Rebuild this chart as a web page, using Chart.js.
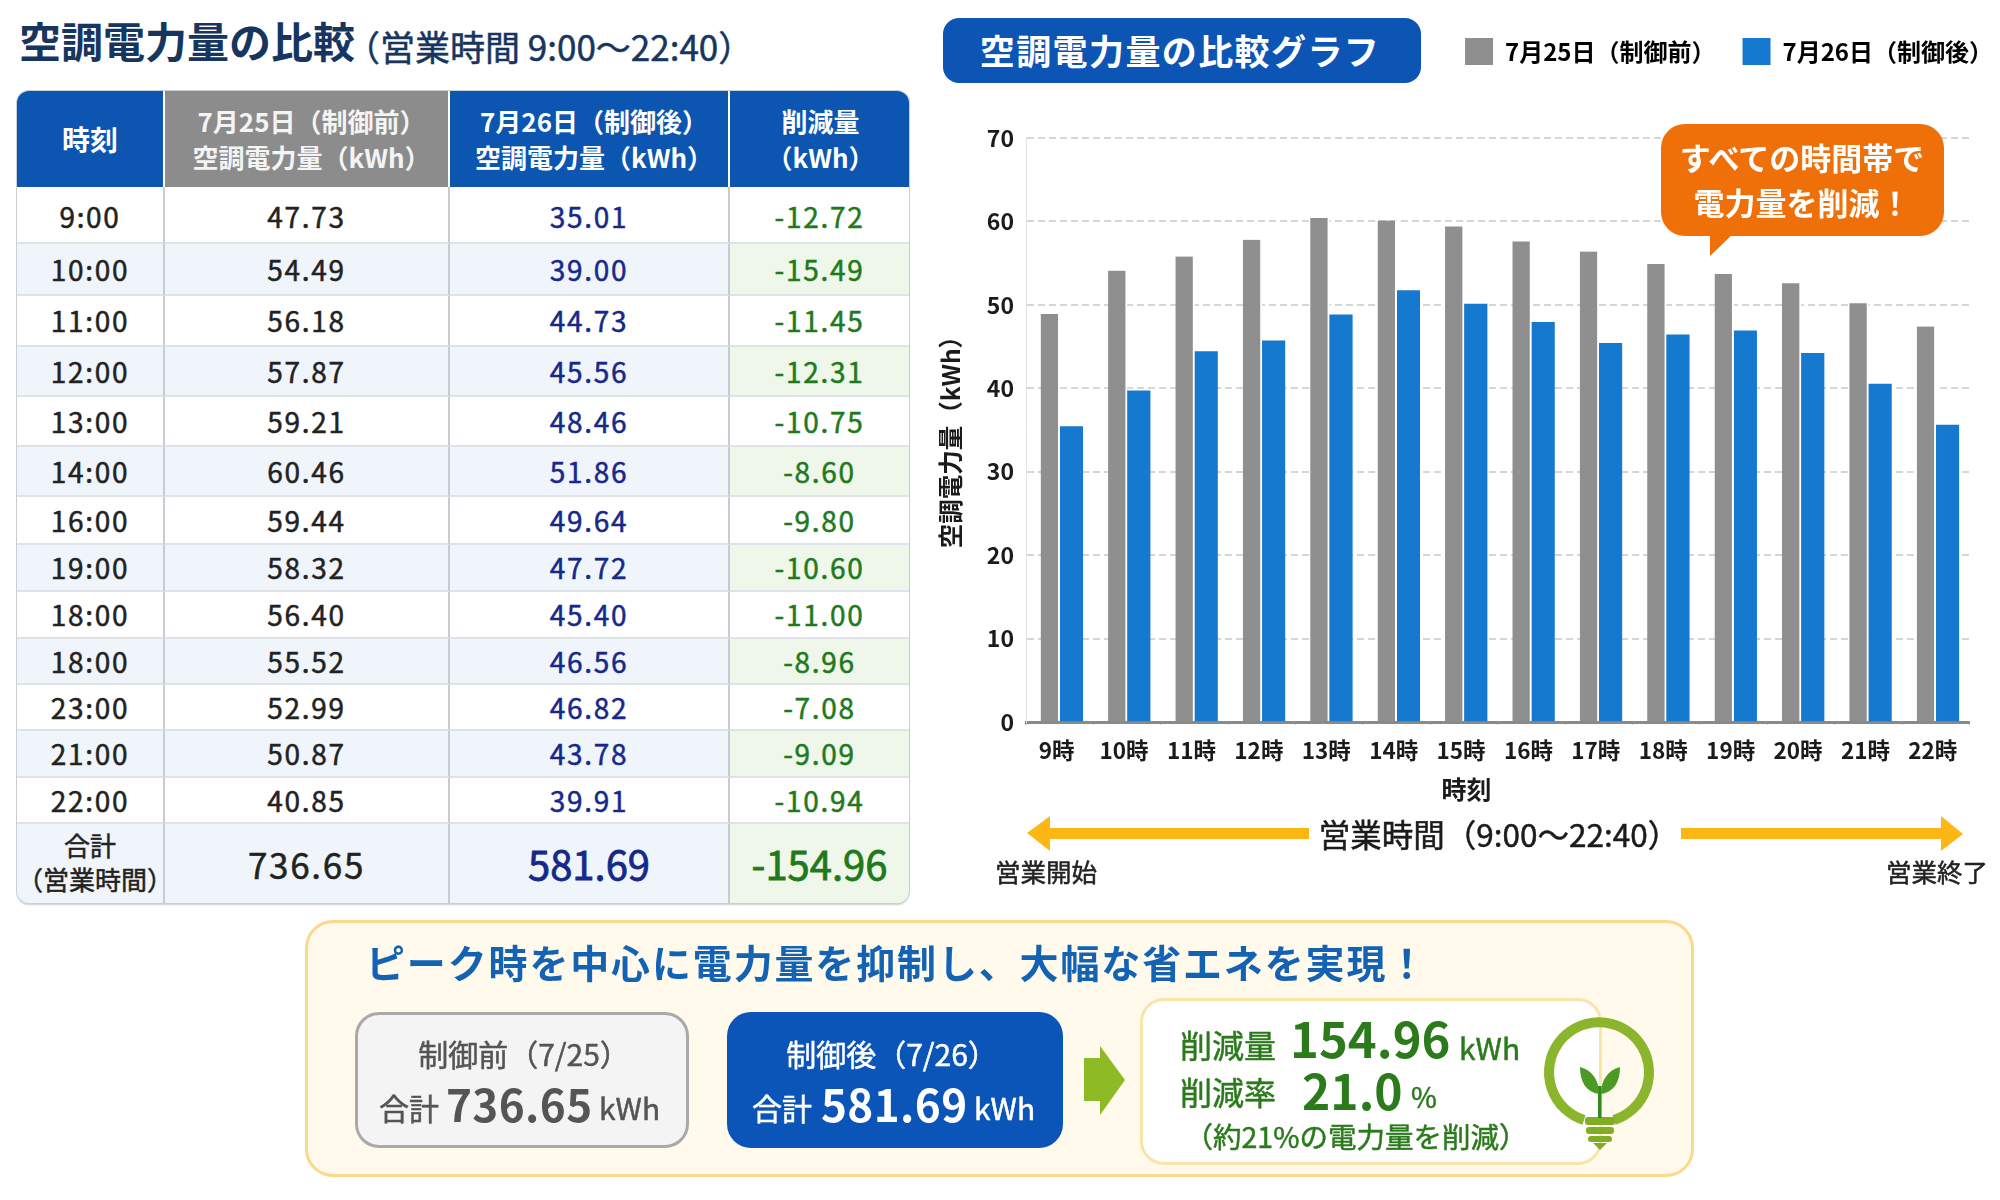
<!DOCTYPE html>
<html lang="ja">
<head>
<meta charset="utf-8">
<title>空調電力量の比較</title>
<script src="https://cdn.jsdelivr.net/npm/chart.js@4/dist/chart.umd.js"></script>
<style>
html, body { margin: 0; padding: 0; background: #fff; width: 2000px; height: 1200px; overflow: hidden; }
body { position: relative; font-family: "Noto Sans CJK JP", "Noto Sans", sans-serif; color: #222; }
.t { position: absolute; white-space: nowrap; transform: translate(-50%, -50%); line-height: 1; }
.l { position: absolute; white-space: nowrap; line-height: 1; }
.box { position: absolute; box-sizing: border-box; }
.med { -webkit-text-stroke: 0.5px currentColor; }
#chartWrap { position: absolute; left: 930px; top: 0; width: 1070px; height: 812px; }
#overlay { position: absolute; left: 0; top: 0; pointer-events: none; }

#tbl {
  position: absolute; left: 17px; top: 91px; width: 892px; height: 812px;
  display: grid; box-sizing: border-box;
  grid-template-columns: 148px 285px 280px 179px;
  grid-template-rows: 96px 57px 52px 51px 50px 50px 50px 48px 47px 47px 46px 46px 47px 46px 79px;
  border-radius: 12px; overflow: hidden;
  box-shadow: 0 0 0 1px #c9ced3, 0 2px 2px #c9ced3;
}
#tbl > div {
  display: flex; align-items: center; justify-content: center; text-align: center;
  box-sizing: border-box; font-size: 28px; letter-spacing: 1.7px;
  border-bottom: 2px solid #dfe3e8; border-right: 2px solid #c6ccd2;
  -webkit-text-stroke: 0.5px currentColor;
  padding-bottom: 1px;
}
#tbl > div.row0 { padding-top: 3px; padding-bottom: 0; }
#tbl > div.last { border-right: 0; }
#tbl > div.head { background: #0c55b0; color: #fff; font-size: 26px; font-weight: 700; line-height: 36px; border: 0; border-right: 2px solid #fff; padding: 0 0 0 10px; letter-spacing: 0; -webkit-text-stroke: 0; }
#tbl > div.head.first { font-size: 28px; padding-left: 0; }
#tbl > div.head.grey { background: #8c8c8c; color: #f4f4f4; }
#tbl > div.head.last { border-right: 0; padding-left: 2px; }
#tbl .tint { background: #f0f5fb; }
#tbl .after { color: #16298a; }
#tbl .diff { color: #1f7a1c; }
#tbl .diff.tint { background: #eff6ea; }
#tbl > div.total { border-bottom: 0; font-size: 35px; }
#tbl > div.total.after, #tbl > div.total.diff { font-size: 40px; letter-spacing: 0; -webkit-text-stroke: 0.8px currentColor; }
#tbl > div.total.name { font-size: 26px; line-height: 34px; letter-spacing: 0; padding-bottom: 3px; }
</style>
</head>
<body>

<div class="l" style="left:19px;top:19px;font-size:42px;font-weight:700;color:#17365f;">空調電力量の比較</div>
<div class="l med" style="left:345px;top:28px;font-size:35px;color:#17365f;">（営業時間 9:00～22:40）</div>

<div id="tbl"></div>

<div class="box" style="left:943px;top:18px;width:478px;height:65px;background:#0c55b5;border-radius:16px;"></div>
<div class="t" style="left:1180px;top:49px;font-size:35px;font-weight:700;color:#fff;letter-spacing:1.4px;">空調電力量の比較グラフ</div>

<div id="chartWrap"><canvas id="powerChart" width="1070" height="812"></canvas></div>

<svg id="overlay" width="2000" height="1200" xmlns="http://www.w3.org/2000/svg">
  <rect x="1661" y="124" width="283" height="112" rx="24" fill="#ef7009"/>
  <path d="M1710 230 L1710 256 L1735 232 Z" fill="#ef7009"/>
  <path d="M1027 833 L1050 816 L1050 828 L1309 828 L1309 839 L1050 839 L1050 851 Z" fill="#fdb714"/>
  <path d="M1963 834 L1941 816 L1941 828 L1681 828 L1681 839 L1941 839 L1941 851 Z" fill="#fdb714"/>
</svg>

<div class="t" style="left:1802px;top:156px;font-size:31px;font-weight:700;color:#fff;">すべての時間帯で</div>
<div class="t" style="left:1802px;top:201px;font-size:31px;font-weight:700;color:#fff;">電力量を削減！</div>

<div class="t med" style="left:1499px;top:834px;font-size:31.5px;color:#1b1b1b;">営業時間（9:00～22:40）</div>
<div class="t med" style="left:1046px;top:871px;font-size:25.5px;">営業開始</div>
<div class="t med" style="left:1937px;top:871px;font-size:25.5px;">営業終了</div>

<div class="box" style="left:305px;top:920px;width:1389px;height:257px;background:#fffaeb;border:3px solid #fbd88c;border-radius:28px;"></div>
<div class="l" style="left:366px;top:942px;font-size:39px;font-weight:700;color:#1462b4;letter-spacing:1.85px;">ピーク時を中心に電力量を抑制し、大幅な省エネを実現！</div>

<div class="box" style="left:355px;top:1012px;width:334px;height:136px;background:#f4f4f4;border:3px solid #a9a9a9;border-radius:24px;"></div>
<div class="t med" style="left:524px;top:1053px;font-size:30px;color:#555;">制御前（7/25）</div>
<div class="l med" style="left:379px;top:1092px;font-size:30px;color:#555;">合計</div>
<div class="l" style="left:446px;top:1081px;font-size:44px;font-weight:700;color:#555;letter-spacing:.4px;">736.65</div>
<div class="l med" style="left:599px;top:1092px;font-size:30px;color:#555;">kWh</div>

<div class="box" style="left:727px;top:1012px;width:336px;height:136px;background:#0c55b8;border-radius:24px;"></div>
<div class="t med" style="left:892px;top:1053px;font-size:30px;color:#fff;">制御後（7/26）</div>
<div class="l med" style="left:752px;top:1092px;font-size:30px;color:#fff;">合計</div>
<div class="l" style="left:821px;top:1081px;font-size:44px;font-weight:700;color:#fff;letter-spacing:.4px;">581.69</div>
<div class="l med" style="left:974px;top:1092px;font-size:30px;color:#fff;">kWh</div>

<svg class="box" style="left:1078px;top:1039px;" width="55" height="85" xmlns="http://www.w3.org/2000/svg">
  <path d="M6 19 L22 19 L22 7 L47 41 L22 76 L22 62 L6 62 Z" fill="#8dbb25"/>
</svg>

<div class="box" style="left:1140px;top:998px;width:462px;height:167px;background:#fff;border:3px solid #fbe4a8;border-radius:24px;"></div>
<div class="l med" style="left:1180px;top:1028px;font-size:32px;color:#2b7a1c;">削減量</div>
<div class="l" style="left:1290px;top:1012px;font-size:49px;font-weight:700;color:#2b7a1c;">154.96</div>
<div class="l med" style="left:1459px;top:1032px;font-size:30px;color:#2b7a1c;">kWh</div>
<div class="l med" style="left:1180px;top:1075px;font-size:32px;color:#2b7a1c;">削減率</div>
<div class="l" style="left:1302px;top:1065px;font-size:48px;font-weight:700;color:#2b7a1c;">21.0</div>
<div class="l med" style="left:1411px;top:1082px;font-size:28px;color:#2b7a1c;">%</div>
<div class="t med" style="left:1356px;top:1136px;font-size:28.5px;color:#2b7a1c;">（約21%の電力量を削減）</div>

<svg class="box" style="left:1536px;top:1010px;" width="130" height="145" xmlns="http://www.w3.org/2000/svg">
  <path d="M48 110 A50 50 0 1 1 78 110" fill="none" stroke="#8ab52c" stroke-width="10"/>
  <rect x="49" y="107" width="30" height="8" rx="3" fill="#7fae22"/>
  <rect x="50" y="117" width="28" height="7" rx="3" fill="#7fae22"/>
  <rect x="52" y="126" width="24" height="6" rx="3" fill="#7fae22"/>
  <path d="M57 133 H71 L64 140 Z" fill="#7fae22"/>
  <rect x="62" y="76" width="3.5" height="32" fill="#2f8a1f"/>
  <path d="M63 84 C50 82 44 72 44 57 C56 60 63 70 63 84 Z" fill="#4c9a24"/>
  <path d="M65 84 C78 82 84 72 84 57 C72 60 65 70 65 84 Z" fill="#4c9a24"/>
</svg>

<script>
const hourLabels = ['9時', '10時', '11時', '12時', '13時', '14時', '15時', '16時', '17時', '18時', '19時', '20時', '21時', '22時'];
const beforeValues = [48.9, 54.1, 55.8, 57.8, 60.4, 60.1, 59.4, 57.6, 56.4, 54.9, 53.7, 52.6, 50.2, 47.4];
const afterValues = [35.4, 39.7, 44.4, 45.7, 48.8, 51.7, 50.1, 47.9, 45.4, 46.4, 46.9, 44.2, 40.5, 35.6];
const yTicks = [0, 10, 20, 30, 40, 50, 60, 70];

const tableTimes = ['9:00', '10:00', '11:00', '12:00', '13:00', '14:00', '16:00', '19:00', '18:00', '18:00', '23:00', '21:00', '22:00'];
const tableBefore = ['47.73', '54.49', '56.18', '57.87', '59.21', '60.46', '59.44', '58.32', '56.40', '55.52', '52.99', '50.87', '40.85'];
const tableAfter = ['35.01', '39.00', '44.73', '45.56', '48.46', '51.86', '49.64', '47.72', '45.40', '46.56', '46.82', '43.78', '39.91'];
const tableDiff = ['-12.72', '-15.49', '-11.45', '-12.31', '-10.75', '-8.60', '-9.80', '-10.60', '-11.00', '-8.96', '-7.08', '-9.09', '-10.94'];
const tableTotals = ['736.65', '581.69', '-154.96'];

const FONT = '"Noto Sans CJK JP", "Noto Sans", sans-serif';

// table
const tbl = document.getElementById('tbl');
function addCell(html, cls) {
    const d = document.createElement('div');
    d.className = cls;
    d.innerHTML = html;
    tbl.appendChild(d);
}
addCell('時刻', 'head first');
addCell('7月25日（制御前）<br>空調電力量（kWh）', 'head grey');
addCell('7月26日（制御後）<br>空調電力量（kWh）', 'head');
addCell('削減量<br>（kWh）', 'head last');
tableTimes.forEach((time, i) => {
    const tint = (i % 2 === 1 ? ' tint' : '') + (i === 0 ? ' row0' : '');
    addCell(time, 'name' + tint);
    addCell(tableBefore[i], 'before' + tint);
    addCell(tableAfter[i], 'after' + tint);
    addCell(tableDiff[i], 'diff last' + tint);
});
addCell('合計<br>（営業時間）', 'total name tint');
addCell(tableTotals[0], 'total before tint');
addCell(tableTotals[1], 'total after tint');
addCell(tableTotals[2], 'total diff last tint');

// the legend sits beside the title pill, not over the plot
const placeLegend = {
    id: 'placeLegend',
    afterLayout(chart) {
        chart.legend.top = 11;
        chart.legend.right = 1090;
    }
};

new Chart(document.getElementById('powerChart').getContext('2d'), {
    type: 'bar',
    data: {
        labels: hourLabels,
        datasets: [{
            label: '7月25日（制御前）',
            data: beforeValues,
            backgroundColor: '#8f8f8f',
            barThickness: 19,
            borderColor: '#fff',
            borderWidth: { right: 2 },
            borderSkipped: false
        }, {
            label: '7月26日（制御後）',
            data: afterValues,
            backgroundColor: '#1479cf',
            barThickness: 23
        }]
    },
    plugins: [placeLegend],
    options: {
        responsive: false,
        animation: false,
        layout: { padding: { top: 74, right: 30.5, left: 0, bottom: 0 } },
        plugins: {
            tooltip: { enabled: false },
            legend: {
                position: 'top',
                align: 'end',
                labels: {
                    boxWidth: 28,
                    boxHeight: 27,
                    padding: 27,
                    color: '#1b1b1b',
                    font: { family: FONT, size: 24, weight: '700' },
                    generateLabels(chart) {
                        return chart.data.datasets.map((ds, i) => ({
                            text: ds.label,
                            fillStyle: ds.backgroundColor,
                            strokeStyle: ds.backgroundColor,
                            lineWidth: 0,
                            datasetIndex: i
                        }));
                    }
                }
            }
        },
        scales: {
            x: {
                afterFit(scale) { scale.height = 90; },
                grid: { drawOnChartArea: false, tickLength: 3, color: '#c4c4c4' },
                border: { color: '#8a8a8a', width: 3 },
                ticks: {
                    color: '#1b1b1b',
                    padding: 12,
                    labelOffset: -3,
                    maxRotation: 0,
                    autoSkip: false,
                    font: { family: FONT, size: 22.5, weight: '700' }
                },
                title: {
                    display: true,
                    text: '時刻\u3000\u3000\u2002',
                    color: '#1b1b1b',
                    font: { family: FONT, size: 25, weight: '700' },
                    padding: { top: 0, bottom: 8 }
                }
            },
            y: {
                min: 0,
                max: 70,
                afterFit(scale) { scale.width = 96; },
                afterBuildTicks(scale) { scale.ticks = yTicks.map(v => ({ value: v })); },
                grid: { drawTicks: false, color: '#d6d6d6', lineWidth: 2 },
                border: { color: '#e3e3e3', width: 1, dash: [7, 4] },
                ticks: {
                    color: '#1b1b1b',
                    padding: 12,
                    font: { family: FONT, size: 23, weight: '700' }
                },
                title: {
                    display: true,
                    text: '空調電力量（kWh）\u3000',
                    color: '#1b1b1b',
                    font: { family: FONT, size: 24.5, weight: '700' },
                    padding: { top: 6, bottom: 0 }
                }
            }
        }
    }
});
</script>
</body>
</html>
